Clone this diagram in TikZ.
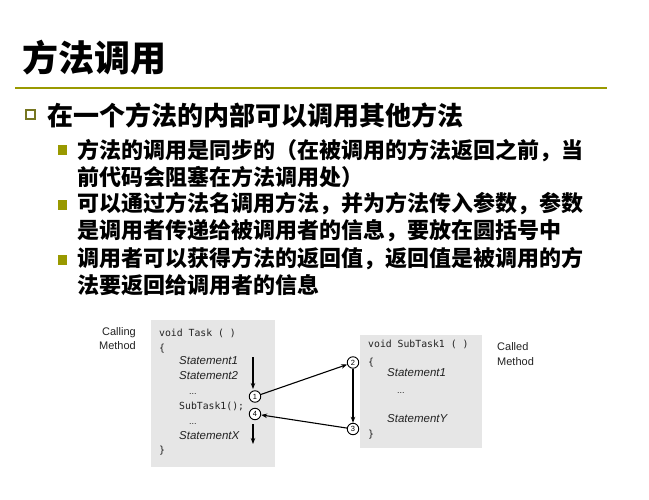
\documentclass[tikz,border=0pt]{standalone}
\usepackage{fontspec}
\setmainfont{Liberation Sans}
\newfontfamily\cjk{Noto Sans CJK SC}
\newfontfamily\monof{DejaVu Sans Mono}
\usetikzlibrary{arrows.meta}
\definecolor{olivebar}{HTML}{999900}
\definecolor{olivedark}{HTML}{767620}
\definecolor{boxgray}{HTML}{E6E6E6}
\definecolor{ink}{HTML}{222222}
\begin{document}
\begin{tikzpicture}[x=1pt,y=-1pt,
  title/.style={anchor=west,inner sep=0pt,font=\cjk\bfseries\fontsize{36}{40}\selectfont},
  lvlone/.style={anchor=west,inner sep=0pt,font=\cjk\bfseries\fontsize{26}{30}\selectfont},
  lvltwo/.style={anchor=west,inner sep=0pt,font=\cjk\bfseries\fontsize{22}{26}\selectfont},
  sqbullet/.style={fill=olivebar,draw=none,minimum width=9pt,minimum height=10pt,inner sep=0pt},
  hollowbullet/.style={draw=olivedark,line width=2.2pt,fill=white,minimum width=8.5pt,minimum height=8.5pt,inner sep=0pt},
  code/.style={anchor=base west,inner sep=0pt,text=ink,font=\monof\fontsize{9.8}{11}\selectfont},
  dots/.style={anchor=base west,inner sep=0pt,text=ink,font=\fontsize{9}{11}\selectfont},
  stmt/.style={anchor=base west,inner sep=0pt,text=ink,font=\itshape\fontsize{11.5}{13}\selectfont},
  lbl/.style={inner sep=0pt,text=ink,font=\fontsize{11}{13}\selectfont},
  stepnum/.style={circle,draw=black,line width=0.9pt,fill=white,minimum size=11.5pt,inner sep=0pt,font=\fontsize{7.5}{8}\selectfont},
  flow/.style={-{Stealth[length=6pt,width=4.5pt]},line width=1.1pt,black}
]
\useasboundingbox (0,0) rectangle (649,500);
\fill[white] (0,0) rectangle (649,500);

% title
\node[title] (t) at (22,58) {方法调用};
\draw[olivebar,line width=1.2pt] (15,88) coordinate (la) -- (607,88) coordinate (lb);

% level one bullet
\node[hollowbullet] (b0) at (30.5,114.5) {};
\node[lvlone] (l0) at (47,115) {在一个方法的内部可以调用其他方法};

% level two bullets
\node[sqbullet] (b1) at (62.5,150) {};
\node[lvltwo] (l1a) at (77,151) {方法的调用是同步的（在被调用的方法返回之前，当};
\node[lvltwo] (l1b) at (77,177) {前代码会阻塞在方法调用处）};
\node[sqbullet] (b2) at (62.5,205) {};
\node[lvltwo] (l2a) at (77,204) {可以通过方法名调用方法，并为方法传入参数，参数};
\node[lvltwo] (l2b) at (77,231) {是调用者传递给被调用者的信息，要放在圆括号中};
\node[sqbullet] (b3) at (62.5,260) {};
\node[lvltwo] (l3a) at (77,259) {调用者可以获得方法的返回值，返回值是被调用的方};
\node[lvltwo] (l3b) at (77,285) {法要返回给调用者的信息};

% code boxes
\fill[boxgray] (151,320) rectangle (275,467);
\fill[boxgray] (360,335) rectangle (482,448);

% labels
\node[lbl,anchor=base east] (cl1) at (136,336) {Calling};
\node[lbl,anchor=base east] (cl2) at (136,349) {Method};
\node[lbl,anchor=base west] (cd1) at (497,351) {Called};
\node[lbl,anchor=base west] (cd2) at (497,365) {Method};

% left code
\node[code] (lc1) at (159,337) {void Task ( )};
\node[code] (lc2) at (159,352) {\{};
\node[stmt] (lc3) at (179,364) {Statement1};
\node[stmt] (lc4) at (179,379) {Statement2};
\node[dots] (lc5) at (189,394) {...};
\node[code] (lc6) at (179,409) {SubTask1();};
\node[dots] (lc7) at (189,424) {...};
\node[stmt] (lc8) at (179,439) {StatementX};
\node[code] (lc9) at (159,453) {\}};

% right code
\node[code] (rc1) at (368,348) {void SubTask1 ( )};
\node[code] (rc2) at (368,365) {\{};
\node[stmt] (rc3) at (387,377) {Statement1};
\node[dots] (rc4) at (397,393) {...};
\node[stmt] (rc5) at (387,422) {StatementY};
\node[code] (rc6) at (368,437) {\}};

% step circles
\node[stepnum] (s1) at (255,396.5) {1};
\node[stepnum] (s4) at (255,414) {4};
\node[stepnum] (s2) at (353,362.5) {2};
\node[stepnum] (s3) at (353,429) {3};

% flow arrows
\coordinate (a1s) at (253,357);
\coordinate (a1e) at (253,389);
\coordinate (a2s) at (253,424);
\coordinate (a2e) at (253,444);
\draw[flow] (a1s) -- (a1e);
\draw[flow] (a2s) -- (a2e);
\draw[flow] (s1) -- (s2);
\draw[flow] (s2) -- (s3);
\draw[flow] (s3) -- (s4);
\end{tikzpicture}
\end{document}
